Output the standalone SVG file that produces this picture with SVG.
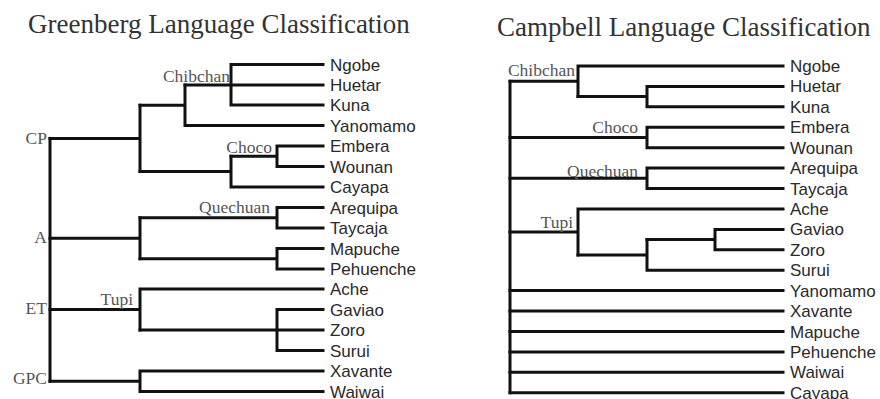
<svg xmlns="http://www.w3.org/2000/svg" width="880" height="399" viewBox="0 0 880 399">
<style>
.title{font-family:"Liberation Serif","Times New Roman",serif;font-size:27px;fill:#333}
.leaf{font-family:"Liberation Sans",Arial,sans-serif;font-size:17px;fill:#2a2a2a}
.lab{font-family:"Liberation Serif","Times New Roman",serif;font-size:17.5px;fill:#555;text-anchor:end}
.ln{fill:none;stroke:#111;stroke-width:3;stroke-linecap:square}
</style>
<rect width="880" height="399" fill="#fff"/>
<text class="title" x="28" y="33">Greenberg Language Classification</text>
<text class="title" x="497" y="36">Campbell Language Classification</text>

<g id="connectors">
<!-- Greenberg -->
<path class="ln" d="M231,64.5V105M231,64.5H323M185,85H323M231,105H323"/>
<path class="ln" d="M185,85V125.5M185,125.5H323M140,105.25H185"/>
<path class="ln" d="M277,146V166.5M277,146H323M277,166.5H323M231,156.25H277"/>
<path class="ln" d="M231,156.25V187M231,187H323M140,171.6H231"/>
<path class="ln" d="M140,105.25V171.6M50,138.4H140"/>
<path class="ln" d="M277,207.5V228M277,207.5H323M277,228H323M140,217.75H277"/>
<path class="ln" d="M277,248.5V269M277,248.5H323M277,269H323M140,258.75H277"/>
<path class="ln" d="M140,217.75V258.75M50,238.25H140"/>
<path class="ln" d="M277,309.5V350.5M277,309.5H323M140,330H323M277,350.5H323"/>
<path class="ln" d="M140,289V330M140,289H323M50,309.5H140"/>
<path class="ln" d="M140,371V391.5M140,371H323M140,391.5H323M50,381.25H140"/>
<path class="ln" d="M50,138.4V381.25"/>
<!-- Campbell -->
<path class="ln" d="M647,86.4V106.8M647,86.4H783M647,106.8H783M578,96.6H647"/>
<path class="ln" d="M578,66V96.6M578,66H783M510,81.3H578"/>
<path class="ln" d="M647,127.3V147.7M647,127.3H783M647,147.7H783M510,137.5H647"/>
<path class="ln" d="M647,168.1V188.5M647,168.1H783M647,188.5H783M510,178.3H647"/>
<path class="ln" d="M715,229.4V249.8M715,229.4H783M715,249.8H783M647,239.6H715"/>
<path class="ln" d="M647,239.6V270.2M647,270.2H783M578,254.9H647"/>
<path class="ln" d="M578,208.9V254.9M578,208.9H783M510,231.9H578"/>
<path class="ln" d="M510,290.6H783M510,311H783M510,331.5H783M510,351.9H783M510,372.3H783M510,392.7H783"/>
<path class="ln" d="M510,81.3V392.7"/>
</g>

<g id="greenberg-labels">
<g id="g-chibchan"><text class="lab" x="230" y="82">Chibchan</text></g>
<g id="g-choco"><text class="lab" x="272" y="153">Choco</text></g>
<g id="g-quechuan"><text class="lab" x="270" y="213">Quechuan</text></g>
<g id="g-tupi"><text class="lab" x="133" y="305">Tupi</text></g>
<g id="g-cp"><text class="lab" x="47" y="144">CP</text></g>
<g id="g-a"><text class="lab" x="47" y="243">A</text></g>
<g id="g-et"><text class="lab" x="47" y="314">ET</text></g>
<g id="g-gpc"><text class="lab" x="47" y="384">GPC</text></g>
</g>
<g id="greenberg-leaves">
<g id="g-ngobe"><text class="leaf" x="330" y="70.5">Ngobe</text></g>
<g id="g-huetar"><text class="leaf" x="330" y="91">Huetar</text></g>
<g id="g-kuna"><text class="leaf" x="330" y="111">Kuna</text></g>
<g id="g-yanomamo"><text class="leaf" x="330" y="131.5">Yanomamo</text></g>
<g id="g-embera"><text class="leaf" x="330" y="152">Embera</text></g>
<g id="g-wounan"><text class="leaf" x="330" y="172.5">Wounan</text></g>
<g id="g-cayapa"><text class="leaf" x="330" y="193">Cayapa</text></g>
<g id="g-arequipa"><text class="leaf" x="330" y="213.5">Arequipa</text></g>
<g id="g-taycaja"><text class="leaf" x="330" y="234">Taycaja</text></g>
<g id="g-mapuche"><text class="leaf" x="330" y="254.5">Mapuche</text></g>
<g id="g-pehuenche"><text class="leaf" x="330" y="275">Pehuenche</text></g>
<g id="g-ache"><text class="leaf" x="330" y="295">Ache</text></g>
<g id="g-gaviao"><text class="leaf" x="330" y="315.5">Gaviao</text></g>
<g id="g-zoro"><text class="leaf" x="330" y="336">Zoro</text></g>
<g id="g-surui"><text class="leaf" x="330" y="356.5">Surui</text></g>
<g id="g-xavante"><text class="leaf" x="330" y="377">Xavante</text></g>
<g id="g-waiwai"><text class="leaf" x="330" y="397.5">Waiwai</text></g>
</g>

<g id="campbell-labels">
<g id="c-chibchan"><text class="lab" x="575" y="76">Chibchan</text></g>
<g id="c-choco"><text class="lab" x="638" y="133">Choco</text></g>
<g id="c-quechuan"><text class="lab" x="638" y="177">Quechuan</text></g>
<g id="c-tupi"><text class="lab" x="573" y="228">Tupi</text></g>
</g>
<g id="campbell-leaves">
<g id="c-ngobe"><text class="leaf" x="790" y="72">Ngobe</text></g>
<g id="c-huetar"><text class="leaf" x="790" y="92.4">Huetar</text></g>
<g id="c-kuna"><text class="leaf" x="790" y="112.8">Kuna</text></g>
<g id="c-embera"><text class="leaf" x="790" y="133.3">Embera</text></g>
<g id="c-wounan"><text class="leaf" x="790" y="153.7">Wounan</text></g>
<g id="c-arequipa"><text class="leaf" x="790" y="174.1">Arequipa</text></g>
<g id="c-taycaja"><text class="leaf" x="790" y="194.5">Taycaja</text></g>
<g id="c-ache"><text class="leaf" x="790" y="214.9">Ache</text></g>
<g id="c-gaviao"><text class="leaf" x="790" y="235.4">Gaviao</text></g>
<g id="c-zoro"><text class="leaf" x="790" y="255.8">Zoro</text></g>
<g id="c-surui"><text class="leaf" x="790" y="276.2">Surui</text></g>
<g id="c-yanomamo"><text class="leaf" x="790" y="296.6">Yanomamo</text></g>
<g id="c-xavante"><text class="leaf" x="790" y="317">Xavante</text></g>
<g id="c-mapuche"><text class="leaf" x="790" y="337.5">Mapuche</text></g>
<g id="c-pehuenche"><text class="leaf" x="790" y="357.9">Pehuenche</text></g>
<g id="c-waiwai"><text class="leaf" x="790" y="378.3">Waiwai</text></g>
<g id="c-cayapa"><text class="leaf" x="790" y="398.7">Cayapa</text></g>
</g>
</svg>
